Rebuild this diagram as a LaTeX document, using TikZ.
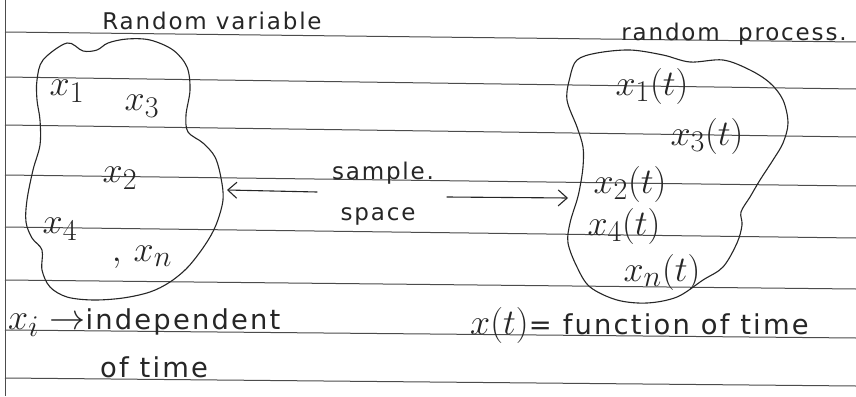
\documentclass[tikz,border=0pt]{standalone}
\usepackage{fontspec}
\usepackage{graphicx}
\setmainfont[LetterSpace=8]{DejaVu Sans}
\usetikzlibrary{arrows.meta}
\newcommand{\lbl}[1]{\scalebox{1.45}{$#1$}}
\newcommand{\nt}[1]{\scalebox{1.1}{#1}}
\begin{document}
\begin{tikzpicture}[x=1pt,y=-1pt,
  ink/.style={black!85, line width=1.1pt, line cap=round, line join=round},
  rule/.style={black!70, line width=1pt},
  hand/.style={font=\fontsize{23}{27}\selectfont, text=black!85, inner sep=0pt, anchor=base},
  note/.style={font=\fontsize{24.88}{29}\selectfont, text=black!85, inner sep=0pt, anchor=base west},
  lab/.style={font=\fontsize{24.88}{29}\selectfont, text=black!85, inner sep=0pt},
  arr/.style={ink, -{Straight Barb[length=9pt,width=16pt]}}]
\useasboundingbox (0,0) rectangle (856,396);
\fill[white] (0,0) rectangle (856,396);
% ruled paper
\foreach \a/\b in {32/42, 77/89, 125/137, 175/186, 227/238, 280/289, 330/338, 378/386}
  \draw[rule] (5,\a) -- (856,\b);
\draw[rule] (5,0) -- (5,396);
% left blob (random variable)
\draw[ink] plot[smooth cycle, tension=0.55] coordinates {
 (37,80) (43,60) (67,43) (83,51) (97,50) (108,43) (127,39) (150,40) (173,50)
 (187,67) (190,90) (186,115) (188,132) (203,143) (215,157) (221,178) (223,200)
 (216,225) (205,245) (188,267) (170,282) (150,292) (123,298) (93,300) (67,297)
 (50,287) (42,270) (42,250) (32,238) (26,222) (27,200) (33,170) (40,145) (40,120) (37,100)};
% right blob (random process)
\draw[ink] plot[smooth cycle, tension=0.55] coordinates {
 (577,60) (597,53) (630,50) (663,55) (690,62) (723,60) (750,70) (770,83) (783,100)
 (788,123) (783,143) (773,160) (760,180) (750,197) (741,212) (742,225) (737,243)
 (723,267) (703,280) (677,297) (647,303) (617,300) (590,287) (577,267) (568,243)
 (570,223) (577,200) (580,187) (583,167) (583,147) (577,127) (567,100) (570,77)};
% titles
\node[hand] (rv) at (212,30) {Random variable};
\node[hand] (rp) at (734,41) {random\ \ process.};
% left labels
\node[lab] (x1) at (67,91) {\lbl{x_1}};
\node[lab] (x3) at (142,106) {\lbl{x_3}};
\node[lab] (x2) at (120,178) {\lbl{x_2}};
\node[lab] (x4) at (60,229) {\lbl{x_4}};
\node[lab] (xn) at (142,257) {\lbl{,\,x_n}};
% right labels
\node[lab] (y1) at (652,86) {\lbl{x_1(t)}};
\node[lab] (y3) at (707,136) {\lbl{x_3(t)}};
\node[lab] (y2) at (630,184) {\lbl{x_2(t)}};
\node[lab] (y4) at (624,226) {\lbl{x_4(t)}};
\node[lab] (yn) at (662,272) {\lbl{x_n(t)}};
% sample space
\node[hand] (ss1) at (383,179) {sample.};
\node[hand] (ss2) at (378,220) {space};
\coordinate (la) at (317,192);
\coordinate (lb) at (227,190);
\coordinate (ra) at (447,197);
\coordinate (rb) at (568,198);
\draw[arr] (la) -- (lb);
\draw[arr] (ra) -- (rb);
% notes
\node[lab, anchor=base west] (m1) at (8,329) {\lbl{x_i\rightarrow}};
\node[note] (n1) at (m1.base east) {\nt{independent}};
\node[note] (n2) at (100,377) {\nt{of time}};
\node[lab, anchor=base west] (m3) at (470,334) {\lbl{x(t)}};
\node[note] (n3) at (m3.base east) {\nt{= function of time}};
\end{tikzpicture}
\end{document}
